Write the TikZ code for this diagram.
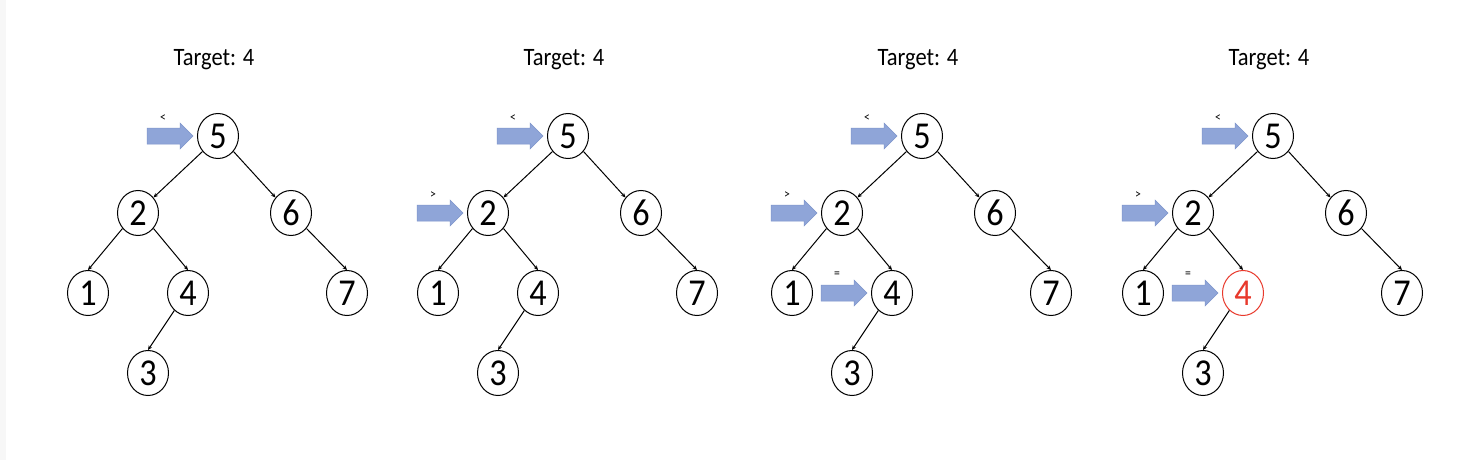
\documentclass[tikz,border=0pt]{standalone}
\usepackage{fontspec}
\newfontfamily\cfont[FakeStretch=0.9]{Carlito}
\usetikzlibrary{shapes.geometric,arrows.meta,positioning,calc}
\definecolor{ptrfill}{HTML}{8FA5D8}
\definecolor{ptrdraw}{HTML}{7E95CB}
\definecolor{hit}{HTML}{E8392C}
\tikzset{
  tnode/.style={ellipse,draw=black,line width=1pt,minimum width=41pt,minimum height=45pt,inner sep=0pt,
    font=\cfont\fontsize{38}{38}\selectfont},
  found/.style={tnode,draw=hit,text=hit},
  edge/.style={draw=black,line width=1pt,-{Stealth[length=4.5pt,width=4pt]}},
  title/.style={font=\cfont\fontsize{25}{25}\selectfont},
  ptr/.style={fill=ptrfill,draw=ptrdraw,line width=0.5pt,line join=miter},
  lbl/.style={font=\cfont\fontsize{13}{13}\selectfont,inner sep=0pt}
}
\newcommand\bsttree[1]{%
  \node[title] (title) at (214,60) {Target: 4};
  \node[tnode] (n5) at (218,136) {5};
  \node[tnode] (n2) at (138,213) {2};
  \node[tnode] (n6) at (291,213) {6};
  \node[tnode] (n1) at (88,293) {1};
  \node[#1] (n4) at (188,293) {4};
  \node[tnode] (n7) at (347,293) {7};
  \node[tnode] (n3) at (148,373) {3};
  \draw[edge] (n5.225) -- (n2.45);
  \draw[edge] (n5.-45) -- (n6.135);
  \draw[edge] (n2.225) -- (n1.north);
  \draw[edge] (n2.-45) -- (n4.north);
  \draw[edge] (n4.232) -- (n3.north);
  \draw[edge] (n6.-45) -- (n7.north);
}
\newcommand\pointer[3]{% target, name, label
  \coordinate (#2) at ($(#1.west)+(-4,0)$);
  \draw[ptr] (#2) -- ++(-13,-13) -- ++(0,5) -- ++(-33,0) -- ++(0,16) -- ++(33,0) -- ++(0,5) -- cycle;
  \node[lbl] (#2l) at ($(#2)+(-30,-18)$) {#3};
}
\begin{document}
\begin{tikzpicture}[x=1pt,y=-1pt]
\fill[white] (0,0) rectangle (1476,460);
\fill[black!3] (0,0) rectangle (6,460);
\useasboundingbox (0,0) rectangle (1476,460);

\begin{scope}[name prefix=a-]
  \bsttree{tnode}
  \pointer{a-n5}{p5}{<}
\end{scope}

\begin{scope}[xshift=350pt,name prefix=b-]
  \bsttree{tnode}
  \pointer{b-n5}{p5}{<}
  \pointer{b-n2}{p2}{>}
\end{scope}

\begin{scope}[xshift=704pt,name prefix=c-]
  \bsttree{tnode}
  \pointer{c-n5}{p5}{<}
  \pointer{c-n2}{p2}{>}
  \pointer{c-n4}{p4}{=}
\end{scope}

\begin{scope}[xshift=1055pt,name prefix=d-]
  \bsttree{found}
  \pointer{d-n5}{p5}{<}
  \pointer{d-n2}{p2}{>}
  \pointer{d-n4}{p4}{=}
\end{scope}
\end{tikzpicture}
\end{document}
